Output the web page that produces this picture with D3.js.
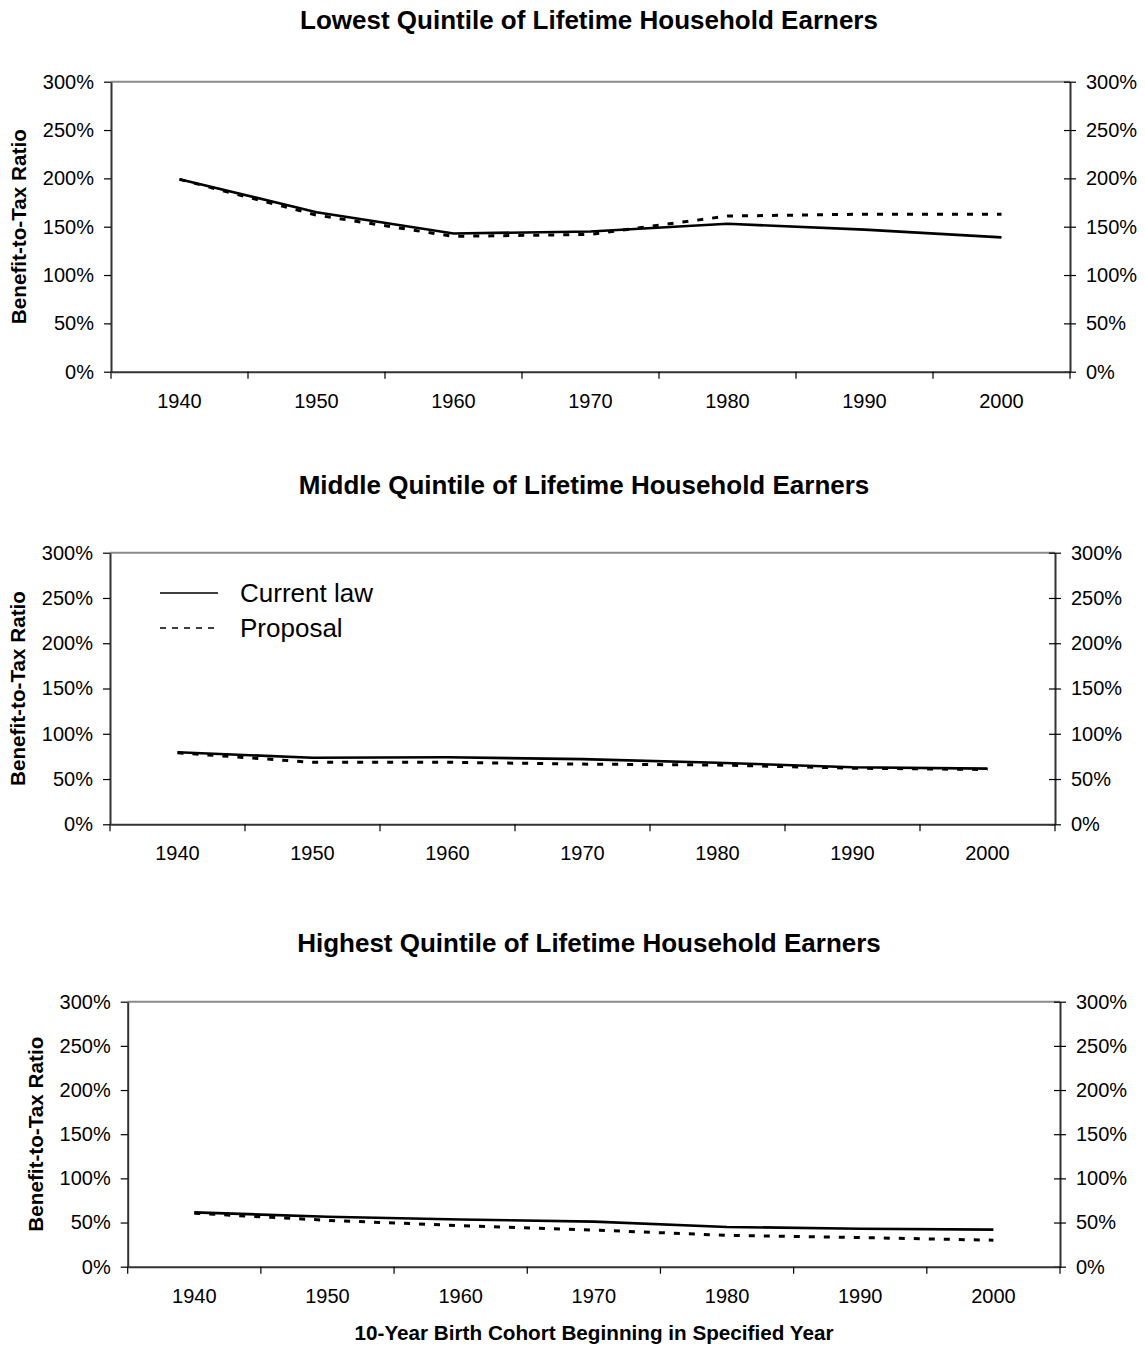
<!DOCTYPE html>
<html>
<head>
<meta charset="utf-8">
<script src="https://cdn.jsdelivr.net/npm/d3@7"></script>
<style>
    body { margin: 0; background: #fff; }
    svg { display: block; font-family: Arial, "Liberation Sans", sans-serif; }
    .tick text { font-size: 20px; fill: #000; }
</style>
</head>
<body>
<div id="chart"></div>
<script>
// cohorts on the x axis
const years = ['1940', '1950', '1960', '1970', '1980', '1990', '2000'];
const yTicks = [0, 50, 100, 150, 200, 250, 300];

// benefit-to-tax ratio in percent
const lowestCurrent = [199, 165, 143, 145, 153, 147, 139];
const lowestProposal = [199, 162, 140, 142, 161, 163, 163];
const middleCurrent = [79.5, 73.5, 74, 72, 68, 63, 61.5];
const middleProposal = [79, 68.5, 68.5, 66.5, 65.5, 62, 60.5];
const highestCurrent = [61.5, 56.5, 53.5, 51, 45, 43, 42];
const highestProposal = [60.5, 52.5, 46.5, 41.5, 35.5, 33, 30];

const seriesNames = ['Current law', 'Proposal'];
const titles = ['Lowest Quintile of Lifetime Household Earners',
    'Middle Quintile of Lifetime Household Earners',
    'Highest Quintile of Lifetime Household Earners'];

// panel placement (layout only)
const panels = [
    {title: titles[0], current: lowestCurrent, proposal: lowestProposal,
        left: 111, right: 1070, top: 81.7, bottom: 371.7, titleX: 589, titleY: 29, yTitleX: 19},
    {title: titles[1], current: middleCurrent, proposal: middleProposal,
        left: 110, right: 1055, top: 552.7, bottom: 824.3, titleX: 584, titleY: 494, yTitleX: 17.5, legend: true},
    {title: titles[2], current: highestCurrent, proposal: highestProposal,
        left: 127.7, right: 1060, top: 1001.7, bottom: 1266.7, titleX: 589, titleY: 952, yTitleX: 36}
];

const svg = d3.select('#chart').append('svg')
    .attr('width', 1145)
    .attr('height', 1349);

panels.forEach(p => {
    let x = d3.scaleBand().domain(years).range([p.left, p.right]);
    let y = d3.scaleLinear().domain([0, 300]).range([p.bottom, p.top]);
    let fmt = d => d + '%';

    // title
    svg.append('text')
        .attr('x', p.titleX)
        .attr('y', p.titleY)
        .attr('text-anchor', 'middle')
        .attr('font-size', 26)
        .attr('font-weight', 'bold')
        .text(p.title);

    // y axis title
    svg.append('text')
        .attr('transform', 'translate(' + (p.yTitleX + 7) + ',' + ((p.top + p.bottom) / 2) + ') rotate(-90)')
        .attr('text-anchor', 'middle')
        .attr('font-size', 20.7)
        .attr('font-weight', 'bold')
        .text('Benefit-to-Tax Ratio');

    // top border of plot area
    svg.append('line')
        .attr('x1', p.left).attr('x2', p.right)
        .attr('y1', p.top).attr('y2', p.top)
        .attr('stroke', '#8a8a8a')
        .attr('stroke-width', 2);

    // left axis
    let leftAxis = svg.append('g')
        .attr('transform', 'translate(' + p.left + ',0)')
        .call(d3.axisLeft(y).tickValues(yTicks).tickFormat(fmt).tickSize(7).tickSizeOuter(0).tickPadding(10));

    // right axis, ticks cross the line
    let rightAxis = svg.append('g')
        .attr('transform', 'translate(' + p.right + ',0)')
        .call(d3.axisRight(y).tickValues(yTicks).tickFormat(fmt).tickSize(6).tickSizeOuter(0).tickPadding(10));
    rightAxis.selectAll('.tick line').attr('x1', -6);

    // bottom axis: labels at band centres
    let bottomAxis = svg.append('g')
        .attr('transform', 'translate(0,' + p.bottom + ')')
        .call(d3.axisBottom(x).tickSize(0).tickSizeOuter(0).tickPadding(22));

    // tick marks between categories
    let bounds = years.map(d => x(d)).concat([x.range()[1]]);
    svg.append('g').selectAll('line')
        .data(bounds)
        .enter().append('line')
        .attr('x1', d => d).attr('x2', d => d)
        .attr('y1', p.bottom).attr('y2', p.bottom + 7)
        .attr('stroke', '#000')
        .attr('stroke-width', 1.2);

    [leftAxis, rightAxis, bottomAxis].forEach(a => {
        a.select('.domain').attr('stroke', '#333').attr('stroke-width', 2);
        a.selectAll('.tick line').attr('stroke', '#000').attr('stroke-width', 1.2);
        a.selectAll('text').attr('font-size', 20).attr('font-family', 'Arial, "Liberation Sans", sans-serif');
    });

    let line = d3.line()
        .x((d, i) => x(years[i]) + x.bandwidth() / 2)
        .y(d => y(d));

    svg.append('path')
        .datum(p.proposal)
        .attr('d', line)
        .attr('fill', 'none')
        .attr('stroke', '#000')
        .attr('stroke-width', 3)
        .attr('stroke-dasharray', '6,9');

    svg.append('path')
        .datum(p.current)
        .attr('d', line)
        .attr('fill', 'none')
        .attr('stroke', '#000')
        .attr('stroke-width', 2.6);

    if (p.legend) {
        let lg = svg.append('g');
        let rows = [{name: seriesNames[0], y: 593, dash: null}, {name: seriesNames[1], y: 628, dash: '6,6'}];
        rows.forEach(r => {
            lg.append('line')
                .attr('x1', 160).attr('x2', 218)
                .attr('y1', r.y).attr('y2', r.y)
                .attr('stroke', '#000')
                .attr('stroke-width', 1.6)
                .attr('stroke-dasharray', r.dash);
            lg.append('text')
                .attr('x', 240)
                .attr('y', r.y)
                .attr('dy', '0.35em')
                .attr('font-size', 26)
                .text(r.name);
        });
    }
});

// x axis title under the last panel
svg.append('text')
    .attr('x', 594)
    .attr('y', 1340)
    .attr('text-anchor', 'middle')
    .attr('font-size', 20.7)
    .attr('font-weight', 'bold')
    .text('10-Year Birth Cohort Beginning in Specified Year');
</script>
</body>
</html>
